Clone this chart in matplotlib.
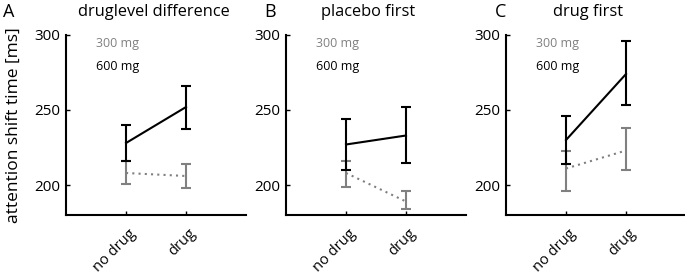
import matplotlib
matplotlib.use("Agg")
import matplotlib.pyplot as plt
from matplotlib.transforms import ScaledTranslation

plt.rcParams['font.family'] = ['Open Sans', 'DejaVu Sans']

conditions = ["no drug", "drug"]
panel_letters = ["A", "B", "C"]
panel_titles = ["druglevel difference", "placebo first", "drug first"]

# 600 mg (black, solid): mean, lower end, upper end of error bar
mean_600 = [[228, 252], [227, 233], [230, 274]]
low_600 = [[216, 237], [210, 215], [214, 253]]
high_600 = [[240, 266], [244, 252], [246, 296]]

# 300 mg (gray, dotted)
mean_300 = [[208, 206], [208, 189], [211, 223]]
low_300 = [[201, 198], [199, 184], [196, 210]]
high_300 = [[216, 214], [216, 196], [223, 238]]

gray = "#808080"
fig = plt.figure(figsize=(6.85, 2.74), dpi=100)
lefts = [0.0964, 0.4175, 0.7387]
title_x = [0.486, 0.456, 0.456]
letter_x = [-0.319, -0.089, -0.028]
xs = [1, 2]

for i in range(3):
    ax = fig.add_axes([lefts[i], 0.2153, 0.2628, 0.657])
    m3, l3, h3 = mean_300[i], low_300[i], high_300[i]
    ax.errorbar(xs, m3, yerr=[[m - l for m, l in zip(m3, l3)], [h - m for m, h in zip(m3, h3)]],
                color=gray, lw=1.5, ls=(0, (1, 2)), capsize=3.3, elinewidth=1.5,
                capthick=1.5)
    m6, l6, h6 = mean_600[i], low_600[i], high_600[i]
    ax.errorbar(xs, m6, yerr=[[m - l for m, l in zip(m6, l6)], [h - m for m, h in zip(m6, h6)]],
                color="black", lw=1.5, capsize=3.3, elinewidth=1.5, capthick=1.5)
    ax.set_xlim(0, 3)
    ax.set_ylim(180, 300)
    ax.set_yticks([200, 250, 300])
    ax.set_xticks(xs)
    ax.set_xticklabels(conditions, rotation=45, ha="right", rotation_mode="anchor")
    ax.tick_params(direction="in", length=3, width=1, labelsize=11, pad=4)
    ax.tick_params(axis="x", pad=8, labelsize=10.5)
    shift = ScaledTranslation(0.02, 0, fig.dpi_scale_trans)
    for lab in ax.get_xticklabels():
        lab.set_transform(lab.get_transform() + shift)
    for s in ["top", "right"]:
        ax.spines[s].set_visible(False)
    for s in ["left", "bottom"]:
        ax.spines[s].set_linewidth(1.5)
    ax.text(0.5, 294, "300 mg", color=gray, fontsize=9, va="center")
    ax.text(0.5, 279, "600 mg", color="black", fontsize=9, va="center")
    ax.text(title_x[i], 1.125, panel_titles[i], transform=ax.transAxes, ha="center",
            va="center", fontsize=11.8)
    ax.text(letter_x[i], 1.125, panel_letters[i], transform=ax.transAxes, ha="center",
            va="center", fontsize=13)
    if i == 0:
        ax.set_ylabel("attention shift time [ms]", fontsize=12.5, labelpad=9)

fig.savefig("out.png", dpi=100)
